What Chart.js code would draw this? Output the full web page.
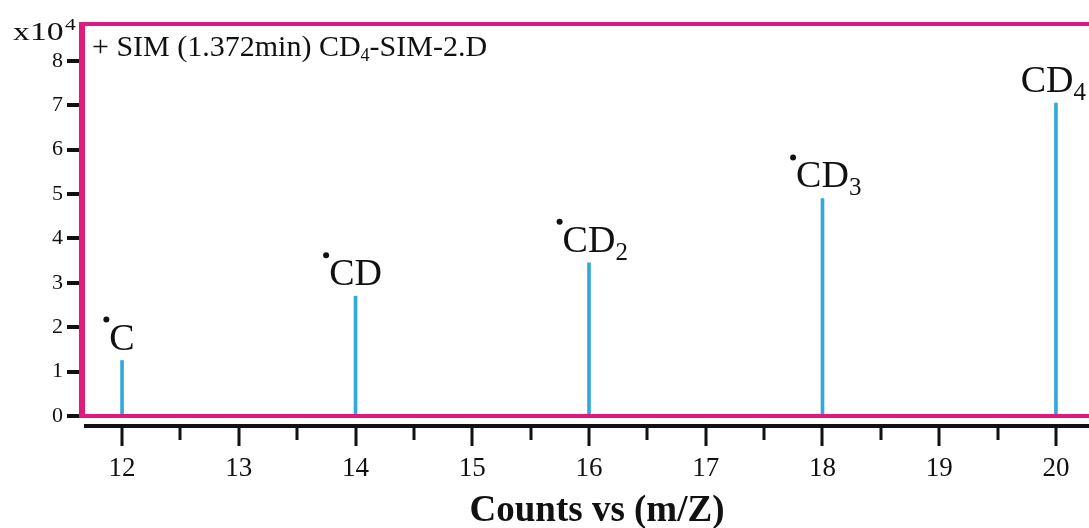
<!DOCTYPE html>
<html>
<head>
<meta charset="utf-8">
<script src="https://cdn.jsdelivr.net/npm/chart.js@4/dist/chart.umd.min.js"></script>
<style>
  html, body { margin: 0; padding: 0; background: #ffffff; overflow: hidden; }
  #wrap { position: relative; width: 1089px; height: 528px; }
</style>
</head>
<body>
<div id="wrap"><canvas id="ms"></canvas></div>
<script>
// m/z of each measured ion
const massToCharge = [12, 14, 16, 18, 20];
// abundance counts
const counts = [12500, 27000, 34500, 49000, 70500];
// ion labels: base formula, subscript, radical marker
const ionBase = ['C', 'CD', 'CD', 'CD', 'CD'];
const ionSub = ['', '', '2', '3', '4'];
const ionRadical = [true, true, true, true, false];
// axis ticks
const yTickValues = [0, 1, 2, 3, 4, 5, 6, 7, 8];
const xTickValues = [12, 13, 14, 15, 16, 17, 18, 19, 20];
const xTitle = 'Counts vs (m/Z)';

const SERIF = '"Liberation Serif", "Times New Roman", serif';
const FRAME = '#de1a7e';
const STEM = '#33a9da';
const INK = '#111111';

const framePlugin = {
  id: 'frame',
  afterDatasetsDraw(chart) {
    const { ctx, chartArea: a, scales } = chart;
    const x = scales.x;
    ctx.save();
    // magenta plot frame (top, bottom, left); the right side runs past the page edge
    ctx.fillStyle = FRAME;
    ctx.fillRect(a.left, a.top - 2, chart.width - a.left, 4);
    ctx.fillRect(a.left, a.bottom - 2, chart.width - a.left, 4);
    ctx.fillRect(a.left - 3, a.top - 2, 6, a.bottom - a.top + 4);

    // separate black m/z axis below the frame
    const axisY = a.bottom + 10;
    ctx.fillStyle = INK;
    ctx.fillRect(a.left + 2, axisY - 2, chart.width - a.left, 4);
    for (let v = Math.ceil(x.min * 2) / 2; v <= x.max; v += 0.5) {
      const px = Math.round(x.getPixelForValue(v));
      const major = Math.abs(v - Math.round(v)) < 1e-6;
      ctx.fillRect(px - 1.5, axisY, 3, major ? 20 : 14);
    }
    ctx.restore();
  },
  afterDraw(chart) {
    const { ctx, chartArea: a } = chart;
    ctx.save();
    ctx.fillStyle = INK;
    ctx.textBaseline = 'alphabetic';
    ctx.textAlign = 'left';

    // exponent label of the count axis
    ctx.save();
    ctx.translate(13, 40);
    ctx.scale(1.35, 1);
    ctx.font = '25px ' + SERIF;
    ctx.fillText('x10', 0, 0);
    const xw = ctx.measureText('x10').width;
    ctx.font = '16px ' + SERIF;
    ctx.fillText('4', xw + 1, -10);
    ctx.restore();

    // scan header
    let hx = a.left + 10;
    const hy = 56;
    ctx.font = '30px ' + SERIF;
    const h1 = '+ SIM (1.372min) CD';
    ctx.fillText(h1, hx, hy);
    hx += ctx.measureText(h1).width;
    ctx.font = '18px ' + SERIF;
    ctx.fillText('4', hx, hy + 5);
    hx += ctx.measureText('4').width;
    ctx.font = '30px ' + SERIF;
    ctx.fillText('-SIM-2.D', hx, hy);

    // axis title, centred under the 12–20 range
    ctx.font = 'bold 37px ' + SERIF;
    ctx.textAlign = 'center';
    const x = chart.scales.x;
    ctx.fillText(xTitle, (x.getPixelForValue(12) + x.getPixelForValue(20)) / 2 + 8, 521);
    ctx.textAlign = 'left';

    // ion labels above each stem
    const meta = chart.getDatasetMeta(0);
    meta.data.forEach((bar, i) => {
      ctx.font = '38px ' + SERIF;
      const mainW = ctx.measureText(ionBase[i]).width;
      ctx.font = '25px ' + SERIF;
      const subW = ionSub[i] ? ctx.measureText(ionSub[i]).width : 0;
      let left = bar.x - mainW / 2;
      const limit = chart.width - 3;
      if (left + mainW + subW > limit) left = limit - mainW - subW;
      const base = bar.y - 11;
      ctx.font = '38px ' + SERIF;
      ctx.fillText(ionBase[i], left, base);
      if (ionSub[i]) {
        ctx.font = '25px ' + SERIF;
        ctx.fillText(ionSub[i], left + mainW, base + 8);
      }
      if (ionRadical[i]) {
        ctx.beginPath();
        ctx.arc(left - 3, base - 30, 3, 0, Math.PI * 2);
        ctx.fill();
      }
    });
    ctx.restore();
  }
};

new Chart(document.getElementById('ms'), {
  type: 'bar',
  data: {
    datasets: [{
      data: massToCharge.map((m, i) => ({ x: m, y: counts[i] })),
      backgroundColor: STEM,
      borderWidth: 0,
      barThickness: 3
    }]
  },
  options: {
    responsive: true,
    maintainAspectRatio: false,
    animation: false,
    layout: { padding: { top: 24, left: 0, right: 0, bottom: 0 } },
    plugins: { legend: { display: false }, tooltip: { enabled: false } },
    scales: {
      x: {
        type: 'linear',
        offset: false,
        min: 11.657,
        max: 20.283,
        afterFit: s => { s.height = 112; s.paddingLeft = 0; s.paddingRight = 0; },
        afterBuildTicks: s => { s.ticks = xTickValues.map(v => ({ value: v })); },
        grid: { display: false, drawTicks: false, offset: false },
        border: { display: false },
        ticks: {
          padding: 37,
          color: INK,
          font: { family: SERIF, size: 27 },
          maxRotation: 0,
          autoSkip: false
        }
      },
      y: {
        min: 0,
        max: 88300,
        afterFit: s => { s.width = 82; },
        afterBuildTicks: s => { s.ticks = yTickValues.map(v => ({ value: v * 10000 })); },
        grid: { drawOnChartArea: false, drawTicks: true, tickLength: 15, lineWidth: 4, color: INK },
        border: { display: false },
        ticks: {
          padding: 4,
          color: INK,
          font: { family: SERIF, size: 22 },
          callback: v => String(v / 10000)
        }
      }
    }
  },
  plugins: [framePlugin]
});
</script>
</body>
</html>
